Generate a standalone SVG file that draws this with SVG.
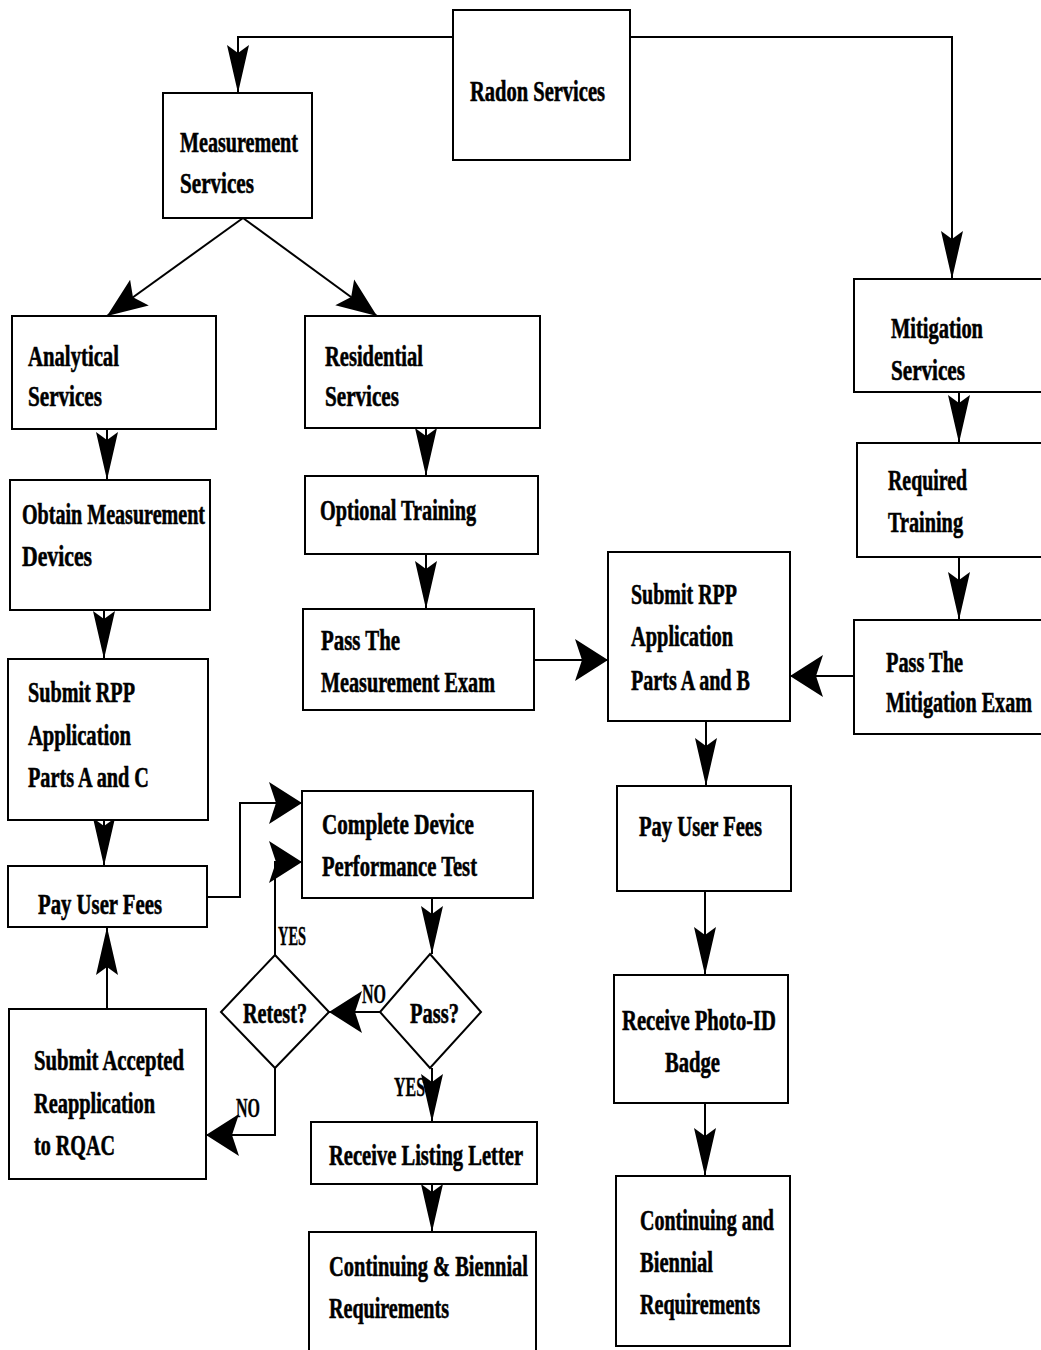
<svg xmlns="http://www.w3.org/2000/svg" width="1041" height="1350" viewBox="0 0 1041 1350">
<style>
.box{fill:#fff;stroke:#000;stroke-width:2}
.t{font-family:"Liberation Serif","Times New Roman",serif;font-weight:bold;font-size:30px;fill:#000;stroke:#000;stroke-width:0.6}
.s{font-family:"Liberation Serif","Times New Roman",serif;font-weight:bold;font-size:27px;fill:#000;stroke:#000;stroke-width:0.4}
.c{fill:none;stroke:#000;stroke-width:2}
</style>
<defs>
<marker id="av" markerUnits="userSpaceOnUse" viewBox="-50 -14 52 28" refX="0" refY="0" markerWidth="52" markerHeight="28" orient="auto" overflow="visible">
<path d="M0,0 L-48,-11 L-40,0 L-48,11 Z" fill="#000"/>
</marker>
<marker id="ah" markerUnits="userSpaceOnUse" viewBox="-36 -24 38 48" refX="0" refY="0" markerWidth="38" markerHeight="48" orient="auto" overflow="visible">
<path d="M0,0 L-33,-21 L-26,0 L-33,21 Z" fill="#000"/>
</marker>
<marker id="ad" markerUnits="userSpaceOnUse" viewBox="-44 -20 46 40" refX="0" refY="0" markerWidth="46" markerHeight="40" orient="auto" overflow="visible">
<path d="M0,0 L-40,-16 L-32,0 L-40,16 Z" fill="#000"/>
</marker>
</defs>
<rect width="1041" height="1350" fill="#fff"/>

<g id="connectors">
<polyline class="c" points="453,37 238,37 238,93" marker-end="url(#av)"/>
<polyline class="c" points="630,37 952,37 952,279" marker-end="url(#av)"/>
<line class="c" x1="243" y1="218" x2="107" y2="316" marker-end="url(#ad)"/>
<line class="c" x1="243" y1="218" x2="377" y2="316" marker-end="url(#ad)"/>
<line class="c" x1="107" y1="429" x2="107" y2="480" marker-end="url(#av)"/>
<line class="c" x1="104" y1="610" x2="104" y2="659" marker-end="url(#av)"/>
<line class="c" x1="104" y1="820" x2="104" y2="866" marker-end="url(#av)"/>
<line class="c" x1="107" y1="1009" x2="107" y2="927" marker-end="url(#av)"/>
<polyline class="c" points="207,897 240,897 240,803 302,803" marker-end="url(#ah)"/>
<polyline class="c" points="275,955 275,862 302,862" marker-end="url(#ah)"/>
<line class="c" x1="380" y1="1012" x2="329" y2="1012" marker-end="url(#ah)"/>
<polyline class="c" points="275,1068 275,1135 206,1135" marker-end="url(#ah)"/>
<line class="c" x1="432" y1="897" x2="432" y2="954" marker-end="url(#av)"/>
<line class="c" x1="432" y1="1068" x2="432" y2="1122" marker-end="url(#av)"/>
<line class="c" x1="432" y1="1184" x2="432" y2="1232" marker-end="url(#av)"/>
<line class="c" x1="426" y1="428" x2="426" y2="476" marker-end="url(#av)"/>
<line class="c" x1="426" y1="554" x2="426" y2="609" marker-end="url(#av)"/>
<line class="c" x1="534" y1="660" x2="608" y2="660" marker-end="url(#ah)"/>
<line class="c" x1="854" y1="676" x2="790" y2="676" marker-end="url(#ah)"/>
<line class="c" x1="959" y1="392" x2="959" y2="443" marker-end="url(#av)"/>
<line class="c" x1="959" y1="557" x2="959" y2="620" marker-end="url(#av)"/>
<line class="c" x1="706" y1="721" x2="706" y2="786" marker-end="url(#av)"/>
<line class="c" x1="705" y1="891" x2="705" y2="975" marker-end="url(#av)"/>
<line class="c" x1="705" y1="1103" x2="705" y2="1176" marker-end="url(#av)"/>
<text class="s" x="278" y="945" textLength="28" lengthAdjust="spacingAndGlyphs">YES</text>
<text class="s" x="362" y="1003" textLength="24" lengthAdjust="spacingAndGlyphs">NO</text>
<text class="s" x="236" y="1117" textLength="24" lengthAdjust="spacingAndGlyphs">NO</text>
<text class="s" x="394" y="1096" textLength="31" lengthAdjust="spacingAndGlyphs">YES</text>
</g>

<g id="radon">
<rect class="box" x="453" y="10" width="177" height="150"/>
<text class="t" x="470" y="101" textLength="135" lengthAdjust="spacingAndGlyphs">Radon Services</text>
</g>
<g id="measurement">
<rect class="box" x="163" y="93" width="149" height="125"/>
<text class="t" x="180" y="152" textLength="118" lengthAdjust="spacingAndGlyphs">Measurement</text>
<text class="t" x="180" y="193" textLength="74" lengthAdjust="spacingAndGlyphs">Services</text>
</g>
<g id="analytical">
<rect class="box" x="12" y="316" width="204" height="113"/>
<text class="t" x="28" y="366" textLength="91" lengthAdjust="spacingAndGlyphs">Analytical</text>
<text class="t" x="28" y="406" textLength="74" lengthAdjust="spacingAndGlyphs">Services</text>
</g>
<g id="residential">
<rect class="box" x="305" y="316" width="235" height="112"/>
<text class="t" x="325" y="366" textLength="98" lengthAdjust="spacingAndGlyphs">Residential</text>
<text class="t" x="325" y="406" textLength="74" lengthAdjust="spacingAndGlyphs">Services</text>
</g>
<g id="mitigation">
<rect class="box" x="854" y="279" width="188" height="113"/>
<text class="t" x="891" y="338" textLength="92" lengthAdjust="spacingAndGlyphs">Mitigation</text>
<text class="t" x="891" y="380" textLength="74" lengthAdjust="spacingAndGlyphs">Services</text>
</g>
<g id="obtain">
<rect class="box" x="10" y="480" width="200" height="130"/>
<text class="t" x="22" y="524" textLength="183" lengthAdjust="spacingAndGlyphs">Obtain Measurement</text>
<text class="t" x="22" y="566" textLength="70" lengthAdjust="spacingAndGlyphs">Devices</text>
</g>
<g id="optional">
<rect class="box" x="305" y="476" width="233" height="78"/>
<text class="t" x="320" y="520" textLength="156" lengthAdjust="spacingAndGlyphs">Optional Training</text>
</g>
<g id="required">
<rect class="box" x="857" y="443" width="185" height="114"/>
<text class="t" x="888" y="490" textLength="79" lengthAdjust="spacingAndGlyphs">Required</text>
<text class="t" x="888" y="532" textLength="75" lengthAdjust="spacingAndGlyphs">Training</text>
</g>
<g id="passmeas">
<rect class="box" x="303" y="609" width="231" height="101"/>
<text class="t" x="321" y="650" textLength="79" lengthAdjust="spacingAndGlyphs">Pass The</text>
<text class="t" x="321" y="692" textLength="174" lengthAdjust="spacingAndGlyphs">Measurement Exam</text>
</g>
<g id="submitb">
<rect class="box" x="608" y="552" width="182" height="169"/>
<text class="t" x="631" y="604" textLength="106" lengthAdjust="spacingAndGlyphs">Submit RPP</text>
<text class="t" x="631" y="646" textLength="102" lengthAdjust="spacingAndGlyphs">Application</text>
<text class="t" x="631" y="690" textLength="119" lengthAdjust="spacingAndGlyphs">Parts A and B</text>
</g>
<g id="passmit">
<rect class="box" x="854" y="620" width="188" height="114"/>
<text class="t" x="886" y="672" textLength="77" lengthAdjust="spacingAndGlyphs">Pass The</text>
<text class="t" x="886" y="712" textLength="146" lengthAdjust="spacingAndGlyphs">Mitigation Exam</text>
</g>
<g id="submitc">
<rect class="box" x="8" y="659" width="200" height="161"/>
<text class="t" x="28" y="702" textLength="107" lengthAdjust="spacingAndGlyphs">Submit RPP</text>
<text class="t" x="28" y="745" textLength="103" lengthAdjust="spacingAndGlyphs">Application</text>
<text class="t" x="28" y="787" textLength="121" lengthAdjust="spacingAndGlyphs">Parts A and C</text>
</g>
<g id="complete">
<rect class="box" x="302" y="791" width="231" height="107"/>
<text class="t" x="322" y="834" textLength="152" lengthAdjust="spacingAndGlyphs">Complete Device</text>
<text class="t" x="322" y="876" textLength="155" lengthAdjust="spacingAndGlyphs">Performance Test</text>
</g>
<g id="payleft">
<rect class="box" x="8" y="866" width="199" height="61"/>
<text class="t" x="38" y="914" textLength="124" lengthAdjust="spacingAndGlyphs">Pay User Fees</text>
</g>
<g id="pass">
<polygon class="box" points="430,954 481,1012 430,1068 380,1012"/>
<text class="t" x="410" y="1023" textLength="49" lengthAdjust="spacingAndGlyphs">Pass?</text>
</g>
<g id="retest">
<polygon class="box" points="275,955 329,1012 275,1068 221,1012"/>
<text class="t" x="243" y="1023" textLength="64" lengthAdjust="spacingAndGlyphs">Retest?</text>
</g>
<g id="reapp">
<rect class="box" x="9" y="1009" width="197" height="170"/>
<text class="t" x="34" y="1070" textLength="150" lengthAdjust="spacingAndGlyphs">Submit Accepted</text>
<text class="t" x="34" y="1113" textLength="121" lengthAdjust="spacingAndGlyphs">Reapplication</text>
<text class="t" x="34" y="1155" textLength="81" lengthAdjust="spacingAndGlyphs">to RQAC</text>
</g>
<g id="listing">
<rect class="box" x="311" y="1122" width="226" height="62"/>
<text class="t" x="329" y="1165" textLength="194" lengthAdjust="spacingAndGlyphs">Receive Listing Letter</text>
</g>
<g id="contleft">
<rect class="box" x="309" y="1232" width="227" height="125"/>
<text class="t" x="329" y="1276" textLength="199" lengthAdjust="spacingAndGlyphs">Continuing &amp; Biennial</text>
<text class="t" x="329" y="1318" textLength="120" lengthAdjust="spacingAndGlyphs">Requirements</text>
</g>
<g id="payright">
<rect class="box" x="617" y="786" width="174" height="105"/>
<text class="t" x="639" y="836" textLength="123" lengthAdjust="spacingAndGlyphs">Pay User Fees</text>
</g>
<g id="photo">
<rect class="box" x="614" y="975" width="174" height="128"/>
<text class="t" x="622" y="1030" textLength="154" lengthAdjust="spacingAndGlyphs">Receive Photo-ID</text>
<text class="t" x="665" y="1072" textLength="55" lengthAdjust="spacingAndGlyphs">Badge</text>
</g>
<g id="contright">
<rect class="box" x="616" y="1176" width="174" height="170"/>
<text class="t" x="640" y="1230" textLength="134" lengthAdjust="spacingAndGlyphs">Continuing and</text>
<text class="t" x="640" y="1272" textLength="73" lengthAdjust="spacingAndGlyphs">Biennial</text>
<text class="t" x="640" y="1314" textLength="120" lengthAdjust="spacingAndGlyphs">Requirements</text>
</g>
</svg>
